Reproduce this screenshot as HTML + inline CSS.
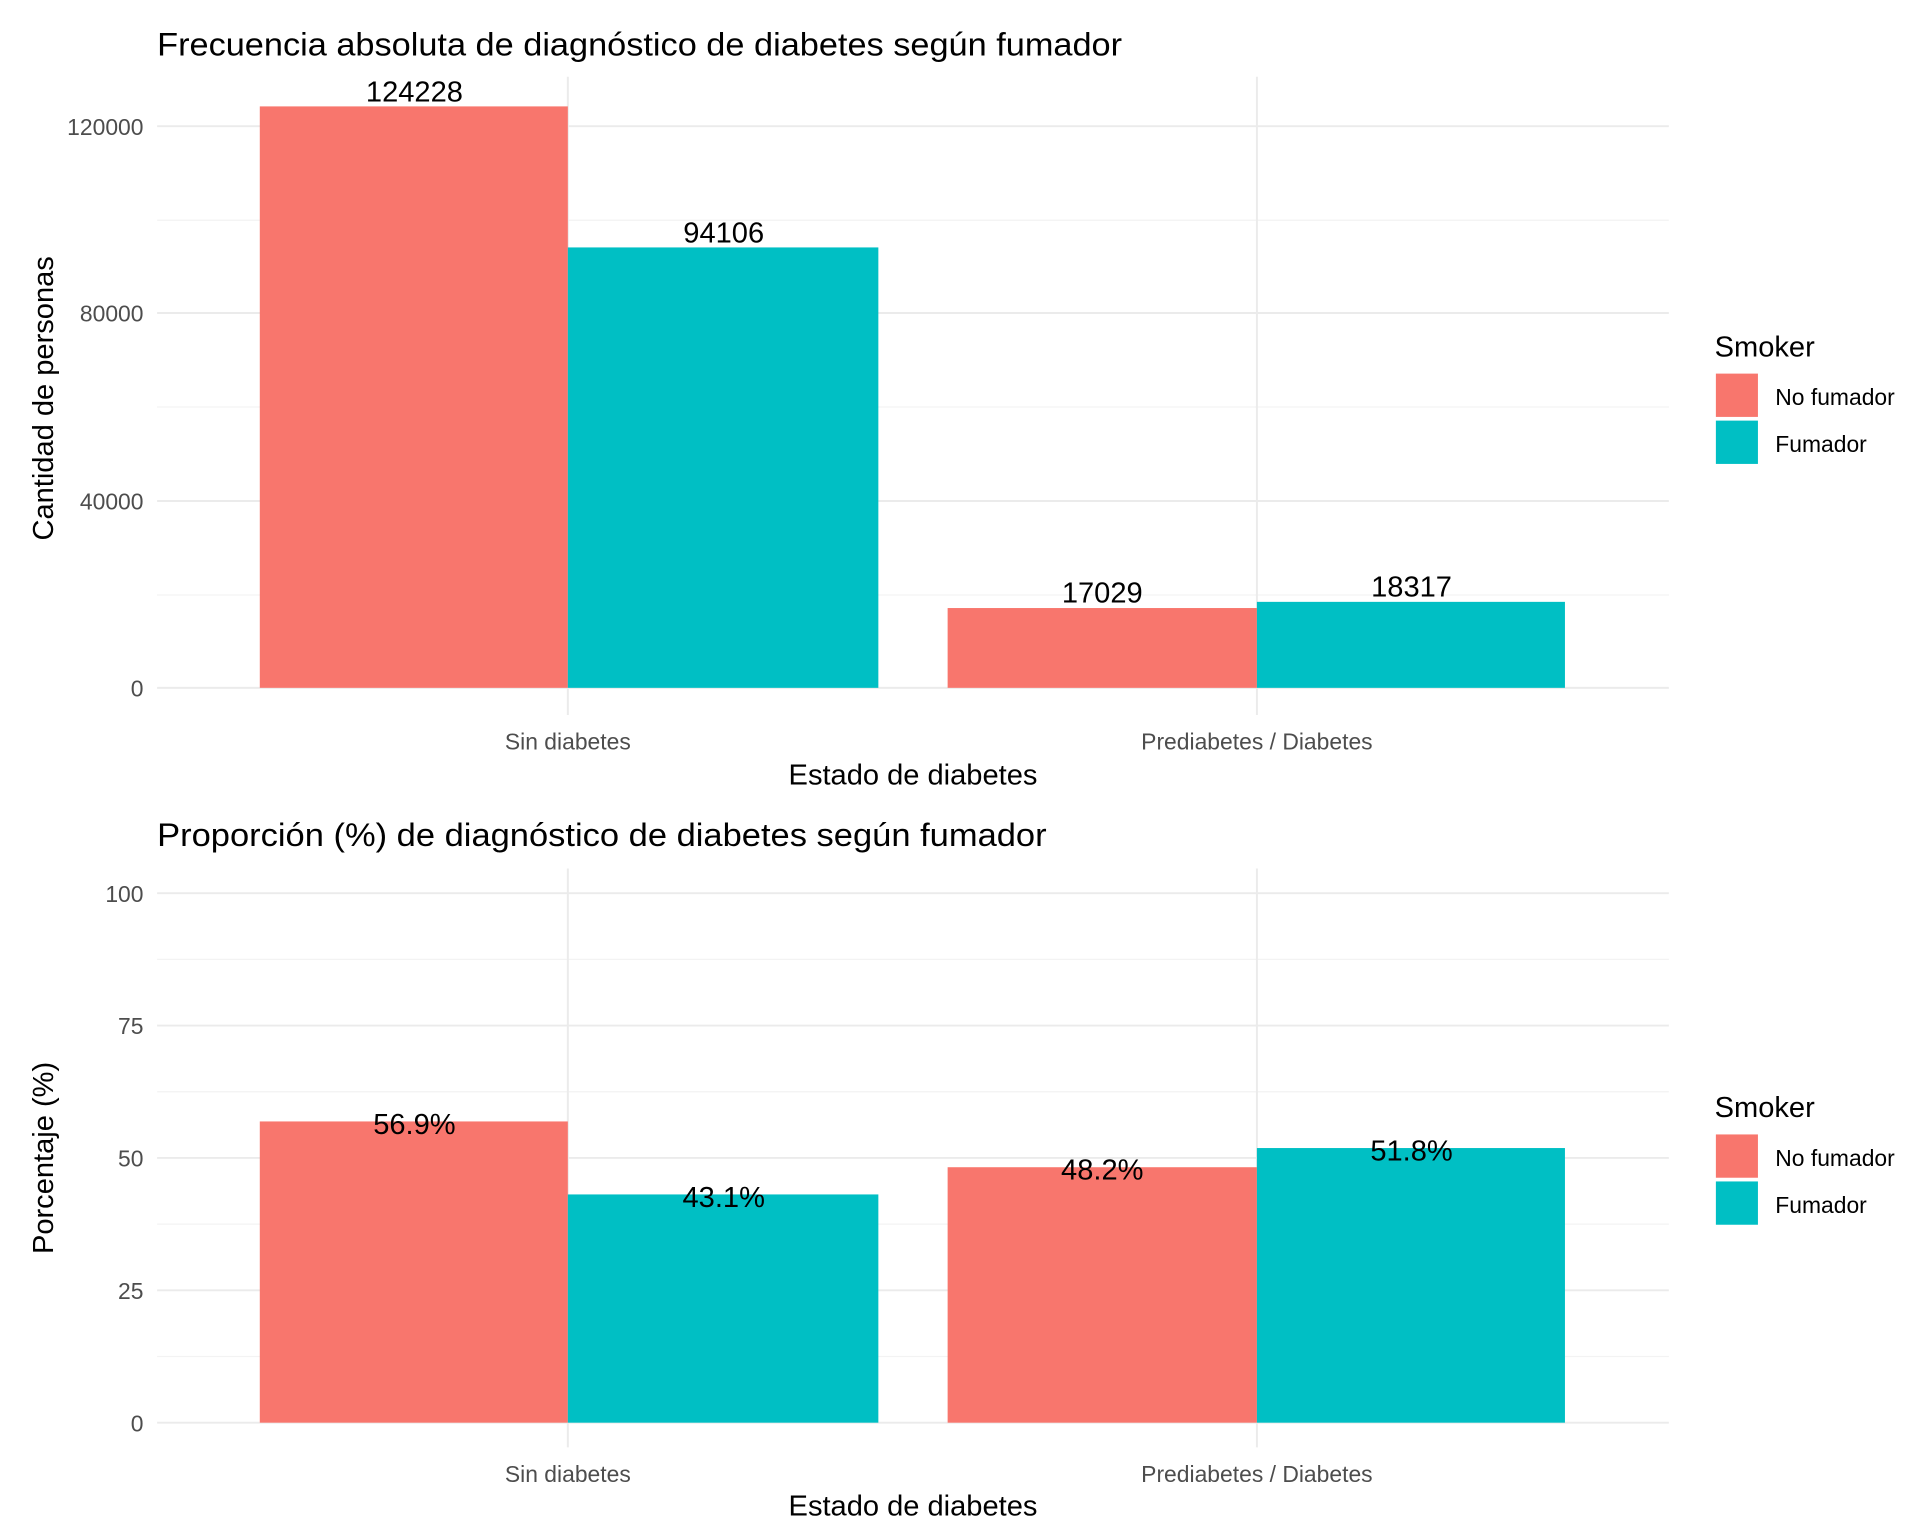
<!DOCTYPE html>
<html><head><meta charset="utf-8"><style>html,body{margin:0;padding:0;background:#fff}svg{display:block}</style></head>
<body>
<svg width="1920" height="1536" viewBox="0 0 1552 1241.6" xmlns="http://www.w3.org/2000/svg" font-family="Liberation Sans, Arial, sans-serif">
<rect width="1552" height="1241.6" fill="#fff"/>
<!-- TOP PANEL -->
<g stroke="#f3f3f3" stroke-width="1">
<line x1="127" x2="1349" y1="178" y2="178"/><line x1="127" x2="1349" y1="329" y2="329"/><line x1="127" x2="1349" y1="481" y2="481"/>
</g>
<g stroke="#ebebeb" stroke-width="1.6">
<line x1="127" x2="1349" y1="102" y2="102"/><line x1="127" x2="1349" y1="253" y2="253"/><line x1="127" x2="1349" y1="405" y2="405"/><line x1="127" x2="1349" y1="556" y2="556"/>
<line x1="459" x2="459" y1="62" y2="578"/><line x1="1016" x2="1016" y1="62" y2="578"/>
</g>
<rect x="210" y="86" width="249" height="470" fill="#F8766D"/>
<rect x="459" y="200" width="251" height="356" fill="#00BFC4"/>
<rect x="766" y="491.5" width="250" height="64.5" fill="#F8766D"/>
<rect x="1016" y="486.5" width="249" height="69.5" fill="#00BFC4"/>
<g font-size="23.5" text-anchor="middle" fill="#000">
<text x="335" y="82">124228</text><text x="585" y="196">94106</text><text x="891" y="487">17029</text><text x="1141" y="482">18317</text>
</g>
<g font-size="18.5" fill="#4d4d4d" text-anchor="end">
<text x="116" y="109">120000</text><text x="116" y="260">80000</text><text x="116" y="412">40000</text><text x="116" y="563">0</text>
</g>
<g font-size="18.5" fill="#4d4d4d" text-anchor="middle">
<text x="459" y="606">Sin diabetes</text><text x="1016" y="606">Prediabetes / Diabetes</text>
</g>
<text x="738" y="634" font-size="23.5" text-anchor="middle">Estado de diabetes</text>
<text transform="translate(43,322) rotate(-90)" font-size="23.5" text-anchor="middle">Cantidad de personas</text>
<text x="127" y="45" font-size="26" textLength="780" lengthAdjust="spacingAndGlyphs">Frecuencia absoluta de diagnóstico de diabetes según fumador</text>
<text x="1386" y="288" font-size="23.5">Smoker</text>
<rect x="1387" y="302" width="34" height="35" fill="#F8766D"/><rect x="1387" y="340" width="34" height="35" fill="#00BFC4"/>
<g font-size="18.5"><text x="1435" y="327.5">No fumador</text><text x="1435" y="365.5">Fumador</text></g>

<!-- BOTTOM PANEL -->
<g stroke="#f3f3f3" stroke-width="1">
<line x1="127" x2="1349" y1="775.5" y2="775.5"/><line x1="127" x2="1349" y1="882.5" y2="882.5"/><line x1="127" x2="1349" y1="989.5" y2="989.5"/><line x1="127" x2="1349" y1="1096.5" y2="1096.5"/>
</g>
<g stroke="#ebebeb" stroke-width="1.6">
<line x1="127" x2="1349" y1="722" y2="722"/><line x1="127" x2="1349" y1="829" y2="829"/><line x1="127" x2="1349" y1="936" y2="936"/><line x1="127" x2="1349" y1="1043" y2="1043"/><line x1="127" x2="1349" y1="1150" y2="1150"/>
<line x1="459" x2="459" y1="702" y2="1170"/><line x1="1016" x2="1016" y1="702" y2="1170"/>
</g>
<rect x="210" y="906.5" width="249" height="243.5" fill="#F8766D"/>
<rect x="459" y="965.5" width="251" height="184.5" fill="#00BFC4"/>
<rect x="766" y="943.5" width="250" height="206.5" fill="#F8766D"/>
<rect x="1016" y="928" width="249" height="222" fill="#00BFC4"/>
<g font-size="23.5" text-anchor="middle" fill="#000">
<text x="335" y="916.5">56.9%</text><text x="585" y="975.5">43.1%</text><text x="891" y="953.5">48.2%</text><text x="1141" y="938">51.8%</text>
</g>
<g font-size="18.5" fill="#4d4d4d" text-anchor="end">
<text x="116" y="729">100</text><text x="116" y="836">75</text><text x="116" y="943">50</text><text x="116" y="1050">25</text><text x="116" y="1157">0</text>
</g>
<g font-size="18.5" fill="#4d4d4d" text-anchor="middle">
<text x="459" y="1198">Sin diabetes</text><text x="1016" y="1198">Prediabetes / Diabetes</text>
</g>
<text x="738" y="1225" font-size="23.5" text-anchor="middle">Estado de diabetes</text>
<text transform="translate(43,936) rotate(-90)" font-size="23.5" text-anchor="middle">Porcentaje (%)</text>
<text x="127" y="684" font-size="26" textLength="719" lengthAdjust="spacingAndGlyphs">Proporción (%) de diagnóstico de diabetes según fumador</text>
<text x="1386" y="903" font-size="23.5">Smoker</text>
<rect x="1387" y="917" width="34" height="35" fill="#F8766D"/><rect x="1387" y="955" width="34" height="35" fill="#00BFC4"/>
<g font-size="18.5"><text x="1435" y="942.5">No fumador</text><text x="1435" y="980.5">Fumador</text></g>
</svg>
</body></html>
